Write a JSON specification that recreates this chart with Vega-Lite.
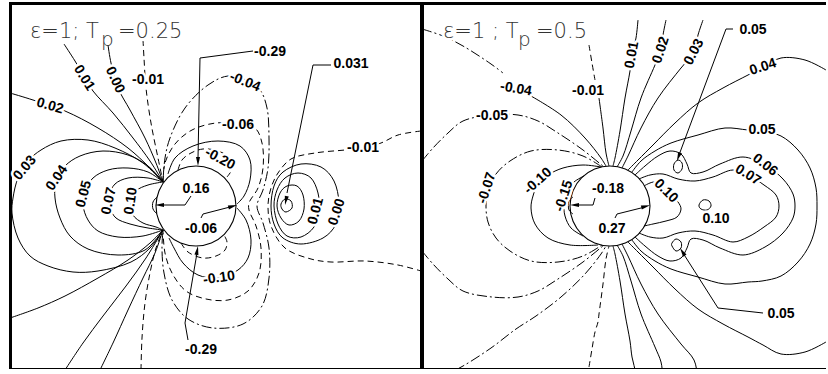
{
  "$schema": "https://vega.github.io/schema/vega-lite/v6.json",
  "padding": {"left": 10, "top": 3, "right": 0, "bottom": 0},
  "spacing": 1,
  "config": {
    "view": {"stroke": null},
    "axis": {"domainColor": "black", "domainWidth": 3, "domainCap": "square", "ticks": false, "labels": false, "grid": false, "title": null}
  },
  "datasets": {
    "circ": [
      {"x": 1, "y": 0}, {"x": 0.924, "y": 0.383}, {"x": 0.707, "y": 0.707}, {"x": 0.383, "y": 0.924},
      {"x": 0, "y": 1}, {"x": -0.383, "y": 0.924}, {"x": -0.707, "y": 0.707}, {"x": -0.924, "y": 0.383},
      {"x": -1, "y": 0}, {"x": -0.924, "y": -0.383}, {"x": -0.707, "y": -0.707}, {"x": -0.383, "y": -0.924},
      {"x": 0, "y": -1}, {"x": 0.383, "y": -0.924}, {"x": 0.707, "y": -0.707}, {"x": 0.924, "y": -0.383}
    ],
    "Ls": [
      {"k":"l1","x":-3.3,"y":4.05},{"k":"l1","x":-3.025,"y":3.625},{"k":"l1","x":-2.775,"y":3.2},{"k":"l1","x":-2.575,"y":2.875},{"k":"l1","x":-2.075,"y":2.325},{"k":"l1","x":-1.575,"y":1.7},{"k":"l1","x":-1.15,"y":1.125},{"k":"l1","x":-0.825,"y":0.6},
      {"k":"l2","x":-2.2,"y":4.025},{"k":"l2","x":-2.125,"y":3.575},{"k":"l2","x":-1.95,"y":2.95},{"k":"l2","x":-1.65,"y":2.4},{"k":"l2","x":-1.275,"y":1.7},{"k":"l2","x":-1.0,"y":1.075},{"k":"l2","x":-0.825,"y":0.6},
      {"k":"l4","x":-4.65,"y":2.825},{"k":"l4","x":-4.075,"y":2.65},{"k":"l4","x":-3.275,"y":2.375},{"k":"l4","x":-2.45,"y":1.95},{"k":"l4","x":-1.7,"y":1.45},{"k":"l4","x":-1.15,"y":0.95},{"k":"l4","x":-0.825,"y":0.6},
      {"k":"l5","x":-4.65,"y":-2.8},{"k":"l5","x":-3.95,"y":-2.55},{"k":"l5","x":-3.275,"y":-2.25},{"k":"l5","x":-2.45,"y":-1.8},{"k":"l5","x":-1.7,"y":-1.35},{"k":"l5","x":-1.15,"y":-0.925},{"k":"l5","x":-0.825,"y":-0.6},
      {"k":"l6","x":-0.825,"y":0.6},{"k":"l6","x":-1.325,"y":1.075},{"k":"l6","x":-2.025,"y":1.45},{"k":"l6","x":-2.7,"y":1.65},{"k":"l6","x":-3.375,"y":1.625},{"k":"l6","x":-3.875,"y":1.4},{"k":"l6","x":-4.2,"y":1.125},{"k":"l6","x":-4.45,"y":0.7},{"k":"l6","x":-4.575,"y":0.2},{"k":"l6","x":-4.6,"y":-0.175},{"k":"l6","x":-4.45,"y":-0.8},{"k":"l6","x":-4.15,"y":-1.25},{"k":"l6","x":-3.7,"y":-1.5},{"k":"l6","x":-3.075,"y":-1.65},{"k":"l6","x":-2.45,"y":-1.625},{"k":"l6","x":-1.625,"y":-1.4},{"k":"l6","x":-1.15,"y":-1.05},{"k":"l6","x":-0.825,"y":-0.6},
      {"k":"l7","x":-0.825,"y":0.6},{"k":"l7","x":-1.2,"y":1.0},{"k":"l7","x":-1.7,"y":1.275},{"k":"l7","x":-2.325,"y":1.375},{"k":"l7","x":-2.9,"y":1.25},{"k":"l7","x":-3.275,"y":1.0},{"k":"l7","x":-3.5,"y":0.625},{"k":"l7","x":-3.525,"y":0.2},{"k":"l7","x":-3.4,"y":-0.3},{"k":"l7","x":-3.15,"y":-0.75},{"k":"l7","x":-2.7,"y":-1.075},{"k":"l7","x":-1.95,"y":-1.225},{"k":"l7","x":-1.275,"y":-1.1},{"k":"l7","x":-0.825,"y":-0.6},
      {"k":"l8","x":-0.825,"y":0.6},{"k":"l8","x":-1.2,"y":0.85},{"k":"l8","x":-1.7,"y":0.95},{"k":"l8","x":-2.2,"y":0.9},{"k":"l8","x":-2.575,"y":0.7},{"k":"l8","x":-2.775,"y":0.375},{"k":"l8","x":-2.825,"y":0.025},{"k":"l8","x":-2.7,"y":-0.35},{"k":"l8","x":-2.45,"y":-0.625},{"k":"l8","x":-1.95,"y":-0.775},{"k":"l8","x":-1.325,"y":-0.75},{"k":"l8","x":-0.825,"y":-0.6},
      {"k":"l9","x":-0.825,"y":0.6},{"k":"l9","x":-1.2,"y":0.7},{"k":"l9","x":-1.7,"y":0.7},{"k":"l9","x":-2.025,"y":0.55},{"k":"l9","x":-2.175,"y":0.25},{"k":"l9","x":-2.15,"y":-0.05},{"k":"l9","x":-2.0,"y":-0.3},{"k":"l9","x":-1.65,"y":-0.45},{"k":"l9","x":-1.2,"y":-0.55},{"k":"l9","x":-0.825,"y":-0.6},
      {"k":"l10","x":-0.825,"y":0.6},{"k":"l10","x":-1.2,"y":0.525},{"k":"l10","x":-1.5,"y":0.375},{"k":"l10","x":-1.625,"y":0.075},{"k":"l10","x":-1.575,"y":-0.225},{"k":"l10","x":-1.325,"y":-0.425},{"k":"l10","x":-1.0,"y":-0.525},{"k":"l10","x":-0.825,"y":-0.6},
      {"k":"l11","x":-3.275,"y":-4.1},{"k":"l11","x":-2.825,"y":-3.425},{"k":"l11","x":-2.325,"y":-2.75},{"k":"l11","x":-1.75,"y":-2.0},{"k":"l11","x":-1.25,"y":-1.3},{"k":"l11","x":-0.825,"y":-0.6},
      {"k":"l12","x":-2.4,"y":-4.1},{"k":"l12","x":-2.075,"y":-3.425},{"k":"l12","x":-1.7,"y":-2.6},{"k":"l12","x":-1.325,"y":-1.8},{"k":"l12","x":-1.025,"y":-1.175},{"k":"l12","x":-0.825,"y":-0.6},
      {"k":"n3a","x":-0.7,"y":0.8},{"k":"n3a","x":-0.525,"y":1.2},{"k":"n3a","x":-0.075,"y":1.5},{"k":"n3a","x":0.55,"y":1.625},{"k":"n3a","x":1.1,"y":1.5},{"k":"n3a","x":1.35,"y":1.15},{"k":"n3a","x":1.35,"y":0.65},{"k":"n3a","x":1.2,"y":0.25},{"k":"n3a","x":1.025,"y":0.05},
      {"k":"n3b","x":1.025,"y":-0.05},{"k":"n3b","x":1.25,"y":-0.35},{"k":"n3b","x":1.375,"y":-0.85},{"k":"n3b","x":1.3,"y":-1.3},{"k":"n3b","x":1.05,"y":-1.6},{"k":"n3b","x":0.55,"y":-1.8},{"k":"n3b","x":0.05,"y":-1.725},{"k":"n3b","x":-0.325,"y":-1.425},{"k":"n3b","x":-0.55,"y":-1.05},{"k":"n3b","x":-0.675,"y":-0.8},
      {"k":"m16","x":-0.975,"y":0.225},{"k":"m16","x":-1.075,"y":0.1},{"k":"m16","x":-1.075,"y":-0.075},{"k":"m16","x":-0.975,"y":-0.2}
    ],
    "Ld": [
      {"k":"l3","x":-1.325,"y":4.15},{"k":"l3","x":-1.3,"y":3.7},{"k":"l3","x":-1.25,"y":2.95},{"k":"l3","x":-1.125,"y":2.075},{"k":"l3","x":-0.95,"y":1.2},{"k":"l3","x":-0.825,"y":0.6},
      {"k":"l13","x":-1.375,"y":-4.1},{"k":"l13","x":-1.35,"y":-3.3},{"k":"l13","x":-1.275,"y":-2.425},{"k":"l13","x":-1.15,"y":-1.675},{"k":"l13","x":-1.0,"y":-1.05},{"k":"l13","x":-0.825,"y":-0.6},
      {"k":"n2","x":-0.825,"y":0.6},{"k":"n2","x":-0.775,"y":1.075},{"k":"n2","x":-0.525,"y":1.55},{"k":"n2","x":-0.1,"y":1.9},{"k":"n2","x":0.5,"y":2.075},{"k":"n2","x":1.05,"y":2.05},{"k":"n2","x":1.475,"y":1.95},{"k":"n2","x":1.65,"y":1.575},{"k":"n2","x":1.675,"y":0.95},{"k":"n2","x":1.55,"y":0.45},{"k":"n2","x":1.325,"y":0.075},{"k":"n2","x":1.325,"y":-0.1},{"k":"n2","x":1.5,"y":-0.5},{"k":"n2","x":1.625,"y":-1.05},{"k":"n2","x":1.575,"y":-1.675},{"k":"n2","x":1.3,"y":-2.125},{"k":"n2","x":0.8,"y":-2.35},{"k":"n2","x":0.25,"y":-2.325},{"k":"n2","x":-0.25,"y":-2.125},{"k":"n2","x":-0.6,"y":-1.675},{"k":"n2","x":-0.775,"y":-1.175},{"k":"n2","x":-0.825,"y":-0.6},
      {"k":"n4a","x":-0.45,"y":0.9},{"k":"n4a","x":-0.35,"y":1.15},{"k":"n4a","x":-0.125,"y":1.325},{"k":"n4a","x":0.175,"y":1.425},{"k":"n4a","x":0.55,"y":1.375},{"k":"n4a","x":0.85,"y":1.2},{"k":"n4a","x":0.925,"y":0.975},{"k":"n4a","x":0.775,"y":0.725},
      {"k":"n4b","x":-0.375,"y":-0.925},{"k":"n4b","x":-0.2,"y":-1.15},{"k":"n4b","x":0.175,"y":-1.3},{"k":"n4b","x":0.5,"y":-1.25},{"k":"n4b","x":0.725,"y":-1.1},{"k":"n4b","x":0.775,"y":-0.9},{"k":"n4b","x":0.7,"y":-0.725},
      {"k":"n5","x":5.625,"y":1.875},{"k":"n5","x":5.05,"y":1.775},{"k":"n5","x":4.625,"y":1.575},{"k":"n5","x":4.175,"y":1.45},{"k":"n5","x":3.725,"y":1.4},{"k":"n5","x":2.975,"y":1.325},{"k":"n5","x":2.375,"y":1.175},{"k":"n5","x":2.05,"y":0.825},{"k":"n5","x":1.875,"y":0.45},{"k":"n5","x":1.8,"y":0},{"k":"n5","x":1.875,"y":-0.5},{"k":"n5","x":2.225,"y":-1.05},{"k":"n5","x":2.875,"y":-1.325},{"k":"n5","x":3.375,"y":-1.4},{"k":"n5","x":4.225,"y":-1.375},{"k":"n5","x":5.05,"y":-1.475},{"k":"n5","x":5.625,"y":-1.625}
    ],
    "Ldd": [
      {"k":"n1","x":-0.825,"y":0.6},{"k":"n1","x":-0.775,"y":1.2},{"k":"n1","x":-0.65,"y":1.7},{"k":"n1","x":-0.275,"y":2.45},{"k":"n1","x":0.3,"y":3.025},{"k":"n1","x":0.8,"y":3.25},{"k":"n1","x":1.25,"y":3.15},{"k":"n1","x":1.6,"y":2.9},{"k":"n1","x":1.775,"y":2.45},{"k":"n1","x":1.825,"y":1.7},{"k":"n1","x":1.8,"y":0.95},{"k":"n1","x":1.675,"y":0.4},{"k":"n1","x":1.525,"y":0},{"k":"n1","x":1.675,"y":-0.425},{"k":"n1","x":1.825,"y":-1.05},{"k":"n1","x":1.825,"y":-1.8},{"k":"n1","x":1.65,"y":-2.5},{"k":"n1","x":1.175,"y":-2.95},{"k":"n1","x":0.425,"y":-3.05},{"k":"n1","x":-0.2,"y":-2.825},{"k":"n1","x":-0.6,"y":-2.35},{"k":"n1","x":-0.8,"y":-1.675},{"k":"n1","x":-0.85,"y":-1.05},{"k":"n1","x":-0.825,"y":-0.6}
    ],
    "Lr": [
      {"k":"r3","x":1.875,"y":0},{"k":"r3","x":1.95,"y":0.5},{"k":"r3","x":2.175,"y":0.85},{"k":"r3","x":2.625,"y":1.05},{"k":"r3","x":3.125,"y":0.975},{"k":"r3","x":3.45,"y":0.625},{"k":"r3","x":3.575,"y":0.075},{"k":"r3","x":3.5,"y":-0.45},{"k":"r3","x":3.175,"y":-0.8},{"k":"r3","x":2.625,"y":-0.95},{"k":"r3","x":2.175,"y":-0.8},{"k":"r3","x":1.95,"y":-0.45},
      {"k":"r2","x":1.95,"y":0},{"k":"r2","x":2.025,"y":0.4},{"k":"r2","x":2.225,"y":0.7},{"k":"r2","x":2.55,"y":0.825},{"k":"r2","x":2.875,"y":0.7},{"k":"r2","x":3.05,"y":0.325},{"k":"r2","x":3.075,"y":-0.1},{"k":"r2","x":2.95,"y":-0.525},{"k":"r2","x":2.625,"y":-0.775},{"k":"r2","x":2.275,"y":-0.75},{"k":"r2","x":2.05,"y":-0.45},
      {"k":"r1","x":2.025,"y":0},{"k":"r1","x":2.1,"y":0.325},{"k":"r1","x":2.275,"y":0.5},{"k":"r1","x":2.525,"y":0.5},{"k":"r1","x":2.675,"y":0.275},{"k":"r1","x":2.7,"y":-0.075},{"k":"r1","x":2.575,"y":-0.375},{"k":"r1","x":2.325,"y":-0.475},{"k":"r1","x":2.125,"y":-0.3},
      {"k":"r0","x":2.125,"y":0.05},{"k":"r0","x":2.225,"y":0.175},{"k":"r0","x":2.375,"y":0.125},{"k":"r0","x":2.4,"y":-0.05},{"k":"r0","x":2.25,"y":-0.15},{"k":"r0","x":2.15,"y":-0.075}
    ],
    "La": [
      {"k":"a1","x":1.425,"y":3.875},{"k":"a1","x":0.1,"y":3.7},{"k":"a1","x":0.05,"y":1.2},
      {"k":"a2","x":-0.2,"y":-3.35},{"k":"a2","x":-0.275,"y":-2.925},{"k":"a2","x":0.025,"y":-1.175},
      {"k":"a3","x":-0.125,"y":0.25},{"k":"a3","x":-0.275,"y":0.025},{"k":"a3","x":-0.875,"y":0.025},
      {"k":"a4","x":0.125,"y":-0.3},{"k":"a4","x":0.175,"y":-0.2},{"k":"a4","x":0.85,"y":-0.025},
      {"k":"a5","x":3.375,"y":3.525},{"k":"a5","x":2.925,"y":3.525},{"k":"a5","x":2.275,"y":0.325}
    ],
    "Lh": [
      {"x":0.05,"y":1.1125,"h":180},{"x":0.03,"y":-1.11,"h":10},{"x":-0.9125,"y":0.025,"h":270},{"x":0.9175,"y":-0.005,"h":74},{"x":2.2475,"y":0.135,"h":191.5}
    ],
    "Ll": [
      {"x":-2.8,"y":3.2,"t":"0.01","a":58},
      {"x":-2.025,"y":3.15,"t":"0.00","a":65},
      {"x":-1.2,"y":3.15,"t":"-0.01","a":0},
      {"x":-3.65,"y":2.5,"t":"0.02","a":16},
      {"x":-4.275,"y":0.95,"t":"0.03","a":-50},
      {"x":-3.475,"y":0.7,"t":"0.04","a":-55},
      {"x":-2.8,"y":0.3,"t":"0.05","a":-75},
      {"x":-2.175,"y":0.125,"t":"0.07","a":-78},
      {"x":-1.625,"y":0.125,"t":"0.10","a":-82},
      {"x":1.225,"y":3.1,"t":"-0.04","a":22},
      {"x":1.05,"y":2.025,"t":"-0.06","a":0},
      {"x":0.6,"y":1.175,"t":"-0.20","a":28},
      {"x":1.85,"y":3.85,"t":"-0.29","a":0},
      {"x":3.875,"y":3.55,"t":"0.031","a":0},
      {"x":4.175,"y":1.45,"t":"-0.01","a":0},
      {"x":0,"y":0.425,"t":"0.16","a":0},
      {"x":0.125,"y":-0.575,"t":"-0.06","a":0},
      {"x":3.0,"y":-0.125,"t":"0.01","a":-75},
      {"x":3.525,"y":-0.15,"t":"0.00","a":-72},
      {"x":0.575,"y":-1.8,"t":"-0.10","a":-8},
      {"x":0.125,"y":-3.6,"t":"-0.29","a":0}
    ],
    "Lt": [{"x":-4.15,"y":4.2,"t":"ε=1; T"},{"x":-1.95,"y":4.2,"t":"=0.25"}],
    "Lsub": [{"x":-2.375,"y":4.0,"t":"p"}],
    "Rs": [
      {"k":"t2b","x":-1.975,"y":2.75},{"k":"t2b","x":-1.225,"y":2.275},{"k":"t2b","x":-0.625,"y":1.7},{"k":"t2b","x":-0.225,"y":1.2},{"k":"t2b","x":-0.1,"y":1.0},
      {"k":"t3b","x":-0.275,"y":2.7},{"k":"t3b","x":-0.175,"y":1.95},{"k":"t3b","x":-0.1,"y":1.325},{"k":"t3b","x":-0.025,"y":1.0},
      {"k":"t4","x":0.7,"y":4.65},{"k":"t4","x":0.65,"y":4.2},{"k":"t4","x":0.55,"y":3.775},{"k":"t4","x":0.5,"y":3.375},{"k":"t4","x":0.375,"y":2.7},{"k":"t4","x":0.25,"y":1.875},{"k":"t4","x":0.125,"y":1.2},{"k":"t4","x":0.075,"y":1.0},
      {"k":"t5","x":1.4,"y":4.65},{"k":"t5","x":1.325,"y":4.275},{"k":"t5","x":1.275,"y":3.9},{"k":"t5","x":1.125,"y":3.525},{"k":"t5","x":0.775,"y":2.7},{"k":"t5","x":0.525,"y":1.875},{"k":"t5","x":0.325,"y":1.25},{"k":"t5","x":0.175,"y":0.975},
      {"k":"t6","x":2.325,"y":4.65},{"k":"t6","x":2.2,"y":4.275},{"k":"t6","x":2.1,"y":3.85},{"k":"t6","x":1.775,"y":3.45},{"k":"t6","x":1.2,"y":2.7},{"k":"t6","x":0.775,"y":1.95},{"k":"t6","x":0.45,"y":1.25},{"k":"t6","x":0.3,"y":0.95},
      {"k":"t7","x":5.4,"y":3.4},{"k":"t7","x":4.875,"y":3.65},{"k":"t7","x":4.275,"y":3.7},{"k":"t7","x":3.825,"y":3.475},{"k":"t7","x":3.45,"y":3.275},{"k":"t7","x":2.825,"y":2.95},{"k":"t7","x":2.2,"y":2.575},{"k":"t7","x":1.625,"y":2.075},{"k":"t7","x":1.075,"y":1.525},{"k":"t7","x":0.7,"y":1.15},{"k":"t7","x":0.45,"y":0.9},
      {"k":"b4","x":0.7,"y":-4.65},{"k":"b4","x":0.65,"y":-4.2},{"k":"b4","x":0.55,"y":-3.775},{"k":"b4","x":0.5,"y":-3.375},{"k":"b4","x":0.375,"y":-2.7},{"k":"b4","x":0.25,"y":-1.875},{"k":"b4","x":0.125,"y":-1.2},{"k":"b4","x":0.075,"y":-1.0},
      {"k":"b5","x":1.4,"y":-4.65},{"k":"b5","x":1.325,"y":-4.275},{"k":"b5","x":1.275,"y":-3.9},{"k":"b5","x":1.125,"y":-3.525},{"k":"b5","x":0.775,"y":-2.7},{"k":"b5","x":0.525,"y":-1.875},{"k":"b5","x":0.325,"y":-1.25},{"k":"b5","x":0.175,"y":-0.975},
      {"k":"b6","x":2.325,"y":-4.65},{"k":"b6","x":2.2,"y":-4.275},{"k":"b6","x":2.1,"y":-3.85},{"k":"b6","x":1.775,"y":-3.45},{"k":"b6","x":1.2,"y":-2.7},{"k":"b6","x":0.775,"y":-1.95},{"k":"b6","x":0.45,"y":-1.25},{"k":"b6","x":0.3,"y":-0.95},
      {"k":"b7","x":5.4,"y":-3.4},{"k":"b7","x":4.875,"y":-3.65},{"k":"b7","x":4.275,"y":-3.7},{"k":"b7","x":3.825,"y":-3.475},{"k":"b7","x":3.45,"y":-3.275},{"k":"b7","x":2.825,"y":-2.95},{"k":"b7","x":2.2,"y":-2.575},{"k":"b7","x":1.625,"y":-2.075},{"k":"b7","x":1.075,"y":-1.525},{"k":"b7","x":0.7,"y":-1.15},{"k":"b7","x":0.45,"y":-0.9},
      {"k":"q1","x":0.55,"y":0.85},{"k":"q1","x":0.775,"y":1.125},{"k":"q1","x":1.125,"y":1.375},{"k":"q1","x":1.525,"y":1.575},{"k":"q1","x":2.2,"y":1.775},{"k":"q1","x":2.875,"y":1.95},{"k":"q1","x":3.45,"y":1.9},{"k":"q1","x":3.8,"y":1.875},{"k":"q1","x":4.275,"y":1.75},{"k":"q1","x":4.7,"y":1.4},{"k":"q1","x":5.0,"y":0.95},{"k":"q1","x":5.15,"y":0.45},{"k":"q1","x":5.175,"y":0},{"k":"q1","x":5.15,"y":-0.45},{"k":"q1","x":5.0,"y":-0.95},{"k":"q1","x":4.7,"y":-1.4},{"k":"q1","x":4.275,"y":-1.75},{"k":"q1","x":3.8,"y":-1.875},{"k":"q1","x":3.45,"y":-1.9},{"k":"q1","x":2.875,"y":-1.95},{"k":"q1","x":2.2,"y":-1.775},{"k":"q1","x":1.525,"y":-1.575},{"k":"q1","x":1.125,"y":-1.375},{"k":"q1","x":0.775,"y":-1.125},{"k":"q1","x":0.55,"y":-0.85},
      {"k":"q2","x":0.625,"y":0.775},{"k":"q2","x":0.875,"y":1.0},{"k":"q2","x":1.2,"y":1.25},{"k":"q2","x":1.5,"y":1.375},{"k":"q2","x":1.775,"y":1.3},{"k":"q2","x":1.925,"y":1.05},{"k":"q2","x":2.025,"y":0.825},{"k":"q2","x":2.325,"y":0.85},{"k":"q2","x":2.75,"y":1.05},{"k":"q2","x":3.325,"y":1.225},{"k":"q2","x":3.875,"y":1.025},{"k":"q2","x":4.325,"y":0.675},{"k":"q2","x":4.575,"y":0.3},{"k":"q2","x":4.625,"y":0},{"k":"q2","x":4.575,"y":-0.3},{"k":"q2","x":4.325,"y":-0.675},{"k":"q2","x":3.875,"y":-1.025},{"k":"q2","x":3.325,"y":-1.225},{"k":"q2","x":2.75,"y":-1.05},{"k":"q2","x":2.325,"y":-0.85},{"k":"q2","x":2.025,"y":-0.825},{"k":"q2","x":1.925,"y":-1.05},{"k":"q2","x":1.775,"y":-1.3},{"k":"q2","x":1.5,"y":-1.375},{"k":"q2","x":1.2,"y":-1.25},{"k":"q2","x":0.875,"y":-1.0},{"k":"q2","x":0.625,"y":-0.775},
      {"k":"q3","x":0.725,"y":0.675},{"k":"q3","x":1.0,"y":0.775},{"k":"q3","x":1.325,"y":0.8},{"k":"q3","x":1.7,"y":0.675},{"k":"q3","x":2.125,"y":0.625},{"k":"q3","x":2.575,"y":0.725},{"k":"q3","x":3.075,"y":0.9},{"k":"q3","x":3.45,"y":0.775},{"k":"q3","x":3.85,"y":0.525},{"k":"q3","x":4.15,"y":0.275},{"k":"q3","x":4.225,"y":0},{"k":"q3","x":4.15,"y":-0.275},{"k":"q3","x":3.85,"y":-0.525},{"k":"q3","x":3.45,"y":-0.775},{"k":"q3","x":3.075,"y":-0.9},{"k":"q3","x":2.575,"y":-0.725},{"k":"q3","x":2.125,"y":-0.625},{"k":"q3","x":1.7,"y":-0.675},{"k":"q3","x":1.325,"y":-0.8},{"k":"q3","x":1.0,"y":-0.775},{"k":"q3","x":0.725,"y":-0.675},
      {"k":"q5","x":-0.225,"y":0.975},{"k":"q5","x":-0.675,"y":1.025},{"k":"q5","x":-1.175,"y":0.95},{"k":"q5","x":-1.55,"y":0.775},{"k":"q5","x":-1.8,"y":0.55},{"k":"q5","x":-1.925,"y":0.25},{"k":"q5","x":-1.975,"y":-0.05},{"k":"q5","x":-1.875,"y":-0.45},{"k":"q5","x":-1.55,"y":-0.8},{"k":"q5","x":-1.0,"y":-0.975},{"k":"q5","x":-0.3,"y":-0.975},
      {"k":"q6","x":-0.65,"y":0.75},{"k":"q6","x":-0.9,"y":0.6},{"k":"q6","x":-1.075,"y":0.375},{"k":"q6","x":-1.15,"y":0.075},{"k":"q6","x":-1.125,"y":-0.25},{"k":"q6","x":-0.975,"y":-0.55},{"k":"q6","x":-0.675,"y":-0.75},
      {"k":"q7","x":0.85,"y":0.5},{"k":"q7","x":1.125,"y":0.6},{"k":"q7","x":1.4,"y":0.375},{"k":"q7","x":1.7,"y":0.1},{"k":"q7","x":1.775,"y":-0.075},{"k":"q7","x":1.675,"y":-0.275},{"k":"q7","x":1.4,"y":-0.375},{"k":"q7","x":1.075,"y":-0.45},{"k":"q7","x":0.85,"y":-0.5},
      {"k":"m18","x":-0.925,"y":0.225},{"k":"m18","x":-1.025,"y":0.125},{"k":"m18","x":-1.025,"y":-0.1},{"k":"m18","x":-0.925,"y":-0.2}
    ],
    "Rd": [
      {"k":"t3a","x":-0.525,"y":4.025},{"k":"t3a","x":-0.45,"y":3.575},{"k":"t3a","x":-0.375,"y":3.15},
      {"k":"b3","x":-0.525,"y":-4.025},{"k":"b3","x":-0.45,"y":-3.575},{"k":"b3","x":-0.375,"y":-3.15},{"k":"b3","x":-0.3,"y":-2.9},{"k":"b3","x":-0.275,"y":-2.7},{"k":"b3","x":-0.175,"y":-1.95},{"k":"b3","x":-0.1,"y":-1.325},{"k":"b3","x":-0.025,"y":-1.0}
    ],
    "Rdd": [
      {"k":"t1","x":-4.7,"y":1.125},{"k":"t1","x":-4.425,"y":1.45},{"k":"t1","x":-4.05,"y":1.825},{"k":"t1","x":-3.675,"y":2.125},{"k":"t1","x":-2.95,"y":2.275},{"k":"t1","x":-2.3,"y":2.275},{"k":"t1","x":-1.8,"y":2.125},{"k":"t1","x":-1.3,"y":1.825},{"k":"t1","x":-0.675,"y":1.4},{"k":"t1","x":-0.15,"y":0.975},
      {"k":"t2a","x":-4.7,"y":4.425},{"k":"t2a","x":-4.175,"y":4.25},{"k":"t2a","x":-3.675,"y":4.0},{"k":"t2a","x":-2.975,"y":3.55},{"k":"t2a","x":-2.675,"y":3.325},
      {"k":"b1","x":-4.7,"y":-1.125},{"k":"b1","x":-4.425,"y":-1.45},{"k":"b1","x":-4.05,"y":-1.825},{"k":"b1","x":-3.675,"y":-2.125},{"k":"b1","x":-2.95,"y":-2.275},{"k":"b1","x":-2.3,"y":-2.275},{"k":"b1","x":-1.8,"y":-2.125},{"k":"b1","x":-1.3,"y":-1.825},{"k":"b1","x":-0.675,"y":-1.4},{"k":"b1","x":-0.15,"y":-0.975},
      {"k":"b2","x":-4.7,"y":-4.425},{"k":"b2","x":-4.175,"y":-4.25},{"k":"b2","x":-3.675,"y":-4.0},{"k":"b2","x":-2.975,"y":-3.55},{"k":"b2","x":-2.35,"y":-3.075},{"k":"b2","x":-1.85,"y":-2.75},{"k":"b2","x":-1.225,"y":-2.275},{"k":"b2","x":-0.625,"y":-1.7},{"k":"b2","x":-0.225,"y":-1.2},{"k":"b2","x":-0.1,"y":-1.0},
      {"k":"q4","x":-0.2,"y":0.975},{"k":"q4","x":-0.675,"y":1.25},{"k":"q4","x":-1.3,"y":1.4},{"k":"q4","x":-1.975,"y":1.375},{"k":"q4","x":-2.5,"y":1.125},{"k":"q4","x":-2.85,"y":0.8},{"k":"q4","x":-3.05,"y":0.4},{"k":"q4","x":-3.1,"y":0},{"k":"q4","x":-3.05,"y":-0.4},{"k":"q4","x":-2.85,"y":-0.8},{"k":"q4","x":-2.5,"y":-1.125},{"k":"q4","x":-1.975,"y":-1.375},{"k":"q4","x":-1.3,"y":-1.4},{"k":"q4","x":-0.675,"y":-1.25},{"k":"q4","x":-0.2,"y":-0.975}
    ],
    "Rr": [
      {"k":"i1","x":1.6,"y":1.05},{"k":"i1","x":1.7,"y":1.15},{"k":"i1","x":1.8,"y":1.075},{"k":"i1","x":1.8,"y":0.925},{"k":"i1","x":1.7,"y":0.825},{"k":"i1","x":1.6,"y":0.9},
      {"k":"i2","x":1.55,"y":-0.925},{"k":"i2","x":1.65,"y":-0.825},{"k":"i2","x":1.775,"y":-0.9},{"k":"i2","x":1.775,"y":-1.05},{"k":"i2","x":1.65,"y":-1.125},{"k":"i2","x":1.55,"y":-1.0},
      {"k":"i3","x":2.225,"y":0.025},{"k":"i3","x":2.325,"y":0.15},{"k":"i3","x":2.475,"y":0.125},{"k":"i3","x":2.525,"y":0},{"k":"i3","x":2.425,"y":-0.1},{"k":"i3","x":2.275,"y":-0.075}
    ],
    "Ra": [
      {"k":"a6","x":-0.375,"y":0.2},{"k":"a6","x":-0.425,"y":0.025},{"k":"a6","x":-0.85,"y":0.025},
      {"k":"a7","x":0.125,"y":-0.3},{"k":"a7","x":0.175,"y":-0.2},{"k":"a7","x":0.875,"y":-0.025},
      {"k":"a8","x":3.075,"y":4.425},{"k":"a8","x":2.9,"y":4.425},{"k":"a8","x":1.725,"y":1.275},
      {"k":"a9","x":3.825,"y":-2.675},{"k":"a9","x":2.7,"y":-2.55},{"k":"a9","x":1.825,"y":-1.175}
    ],
    "Rh": [
      {"x":-0.8875,"y":0.025,"h":270},{"x":0.8925,"y":-0.0075,"h":75},{"x":1.7125,"y":1.23,"h":200},{"x":1.81,"y":-1.145,"h":328}
    ],
    "Rl": [
      {"x":-2.95,"y":2.25,"t":"-0.05","a":0},
      {"x":-2.35,"y":2.925,"t":"-0.04","a":10},
      {"x":-0.55,"y":2.875,"t":"-0.01","a":0},
      {"x":0.55,"y":3.775,"t":"0.01","a":-80},
      {"x":1.275,"y":3.9,"t":"0.02","a":-72},
      {"x":2.1,"y":3.85,"t":"0.03","a":-62},
      {"x":3.575,"y":4.4,"t":"0.05","a":0},
      {"x":3.825,"y":3.475,"t":"0.04","a":-18},
      {"x":3.8,"y":1.9,"t":"0.05","a":0},
      {"x":3.875,"y":1.025,"t":"0.06","a":38},
      {"x":3.45,"y":0.775,"t":"0.07","a":32},
      {"x":1.4,"y":0.375,"t":"0.10","a":45},
      {"x":2.65,"y":-0.325,"t":"0.10","a":0},
      {"x":-0.05,"y":0.425,"t":"-0.18","a":0},
      {"x":0.05,"y":-0.575,"t":"0.27","a":0},
      {"x":-1.15,"y":0.25,"t":"-0.15","a":-72},
      {"x":-1.8,"y":0.625,"t":"-0.10","a":-42},
      {"x":-3.075,"y":0.45,"t":"-0.07","a":-72},
      {"x":4.275,"y":-2.7,"t":"0.05","a":0}
    ],
    "Rt": [{"x":-4.175,"y":4.2,"t":"ε=1 ; T"},{"x":-1.85,"y":4.2,"t":"=0.5"}],
    "Rsub": [{"x":-2.3,"y":4.0,"t":"p"}]
  },
  "hconcat": [
    {
      "width": 411,
      "height": 366,
      "encoding": {
        "x": {"field": "x", "type": "quantitative", "scale": {"domain": [-4.65, 5.625], "nice": false, "zero": false}, "axis": null},
        "y": {"field": "y", "type": "quantitative", "scale": {"domain": [-4.075, 5.075], "nice": false, "zero": false}, "axis": null}
      },
      "layer": [
        {
          "data": {"name": "circ"},
          "mark": {"type": "line", "interpolate": "cardinal-closed", "color": "black", "strokeWidth": 1.1},
          "encoding": {
            "x": {"field": "x", "type": "quantitative", "scale": {"domain": [-4.65, 5.625], "nice": false, "zero": false}, "axis": {"orient": "bottom"}},
            "y": {"field": "y", "type": "quantitative", "scale": {"domain": [-4.075, 5.075], "nice": false, "zero": false}, "axis": {"orient": "left"}},
            "order": {"value": null}
          }
        },
        {
          "data": {"name": "Ls"},
          "mark": {"type": "line", "interpolate": "catmull-rom", "color": "black", "strokeWidth": 1, "clip": true},
          "encoding": {
            "x": {"field": "x", "type": "quantitative", "scale": {"domain": [-4.65, 5.625], "nice": false, "zero": false}, "axis": {"orient": "top"}},
            "y": {"field": "y", "type": "quantitative", "scale": {"domain": [-4.075, 5.075], "nice": false, "zero": false}, "axis": {"orient": "right"}},
            "detail": {"field": "k"},
            "order": {"value": null}
          }
        },
        {
          "data": {"name": "Ld"},
          "mark": {"type": "line", "interpolate": "catmull-rom", "color": "black", "strokeWidth": 1, "strokeDash": [6, 4], "clip": true},
          "encoding": {"detail": {"field": "k"}, "order": {"value": null}}
        },
        {
          "data": {"name": "Ldd"},
          "mark": {"type": "line", "interpolate": "catmull-rom", "color": "black", "strokeWidth": 1, "strokeDash": [10, 3, 2, 3], "clip": true},
          "encoding": {"detail": {"field": "k"}, "order": {"value": null}}
        },
        {
          "data": {"name": "Lr"},
          "mark": {"type": "line", "interpolate": "cardinal-closed", "color": "black", "strokeWidth": 1, "clip": true},
          "encoding": {"detail": {"field": "k"}, "order": {"value": null}}
        },
        {
          "data": {"name": "Lt"},
          "mark": {"type": "text", "font": "DejaVu Sans", "fontWeight": 200, "fontSize": 21, "align": "left", "baseline": "alphabetic", "fill": "white", "stroke": "white", "strokeWidth": 6},
          "encoding": {"text": {"field": "t"}}
        },
        {
          "data": {"name": "Lt"},
          "mark": {"type": "text", "font": "DejaVu Sans", "fontWeight": 200, "fontSize": 21, "align": "left", "baseline": "alphabetic", "fill": "#333333"},
          "encoding": {"text": {"field": "t"}}
        },
        {
          "data": {"name": "Lsub"},
          "mark": {"type": "text", "font": "DejaVu Sans", "fontWeight": 200, "fontSize": 20, "align": "left", "baseline": "alphabetic", "fill": "#333333"},
          "encoding": {"text": {"field": "t"}}
        },
        {
          "data": {"name": "Ll"},
          "mark": {"type": "text", "font": "Liberation Sans", "fontWeight": "bold", "fontSize": 14, "align": "center", "baseline": "middle", "fill": "white", "stroke": "white", "strokeWidth": 5, "strokeJoin": "round"},
          "encoding": {"text": {"field": "t"}, "angle": {"field": "a", "type": "quantitative", "scale": null}}
        },
        {
          "data": {"name": "Ll"},
          "mark": {"type": "text", "font": "Liberation Sans", "fontWeight": "bold", "fontSize": 14, "align": "center", "baseline": "middle", "fill": "black"},
          "encoding": {"text": {"field": "t"}, "angle": {"field": "a", "type": "quantitative", "scale": null}}
        },
        {
          "data": {"name": "La"},
          "mark": {"type": "line", "interpolate": "linear", "color": "black", "strokeWidth": 1},
          "encoding": {"detail": {"field": "k"}, "order": {"value": null}}
        },
        {
          "data": {"name": "Lh"},
          "mark": {"type": "point", "shape": "M0,-1L0.45,1L-0.45,1Z", "filled": true, "color": "black", "opacity": 1, "size": 81, "strokeWidth": 0},
          "encoding": {"angle": {"field": "h", "type": "quantitative", "scale": null}}
        }
      ],
      "resolve": {"axis": {"x": "independent", "y": "independent"}}
    },
    {
      "width": 404,
      "height": 366,
      "encoding": {
        "x": {"field": "x", "type": "quantitative", "scale": {"domain": [-4.7, 5.4], "nice": false, "zero": false}, "axis": null},
        "y": {"field": "y", "type": "quantitative", "scale": {"domain": [-4.075, 5.075], "nice": false, "zero": false}, "axis": null}
      },
      "layer": [
        {
          "data": {"name": "circ"},
          "mark": {"type": "line", "interpolate": "cardinal-closed", "color": "black", "strokeWidth": 1.1},
          "encoding": {
            "x": {"field": "x", "type": "quantitative", "scale": {"domain": [-4.7, 5.4], "nice": false, "zero": false}, "axis": {"orient": "bottom"}},
            "y": {"field": "y", "type": "quantitative", "scale": {"domain": [-4.075, 5.075], "nice": false, "zero": false}, "axis": {"orient": "left"}},
            "order": {"value": null}
          }
        },
        {
          "data": {"name": "Rs"},
          "mark": {"type": "line", "interpolate": "catmull-rom", "color": "black", "strokeWidth": 1, "clip": true},
          "encoding": {
            "x": {"field": "x", "type": "quantitative", "scale": {"domain": [-4.7, 5.4], "nice": false, "zero": false}, "axis": {"orient": "top"}},
            "detail": {"field": "k"},
            "order": {"value": null}
          }
        },
        {
          "data": {"name": "Rd"},
          "mark": {"type": "line", "interpolate": "catmull-rom", "color": "black", "strokeWidth": 1, "strokeDash": [6, 4], "clip": true},
          "encoding": {"detail": {"field": "k"}, "order": {"value": null}}
        },
        {
          "data": {"name": "Rdd"},
          "mark": {"type": "line", "interpolate": "catmull-rom", "color": "black", "strokeWidth": 1, "strokeDash": [10, 3, 2, 3], "clip": true},
          "encoding": {"detail": {"field": "k"}, "order": {"value": null}}
        },
        {
          "data": {"name": "Rr"},
          "mark": {"type": "line", "interpolate": "cardinal-closed", "color": "black", "strokeWidth": 1, "clip": true},
          "encoding": {"detail": {"field": "k"}, "order": {"value": null}}
        },
        {
          "data": {"name": "Rt"},
          "mark": {"type": "text", "font": "DejaVu Sans", "fontWeight": 200, "fontSize": 21, "align": "left", "baseline": "alphabetic", "fill": "white", "stroke": "white", "strokeWidth": 6},
          "encoding": {"text": {"field": "t"}}
        },
        {
          "data": {"name": "Rt"},
          "mark": {"type": "text", "font": "DejaVu Sans", "fontWeight": 200, "fontSize": 21, "align": "left", "baseline": "alphabetic", "fill": "#333333"},
          "encoding": {"text": {"field": "t"}}
        },
        {
          "data": {"name": "Rsub"},
          "mark": {"type": "text", "font": "DejaVu Sans", "fontWeight": 200, "fontSize": 20, "align": "left", "baseline": "alphabetic", "fill": "#333333"},
          "encoding": {"text": {"field": "t"}}
        },
        {
          "data": {"name": "Rl"},
          "mark": {"type": "text", "font": "Liberation Sans", "fontWeight": "bold", "fontSize": 14, "align": "center", "baseline": "middle", "fill": "white", "stroke": "white", "strokeWidth": 5, "strokeJoin": "round"},
          "encoding": {"text": {"field": "t"}, "angle": {"field": "a", "type": "quantitative", "scale": null}}
        },
        {
          "data": {"name": "Rl"},
          "mark": {"type": "text", "font": "Liberation Sans", "fontWeight": "bold", "fontSize": 14, "align": "center", "baseline": "middle", "fill": "black"},
          "encoding": {"text": {"field": "t"}, "angle": {"field": "a", "type": "quantitative", "scale": null}}
        },
        {
          "data": {"name": "Ra"},
          "mark": {"type": "line", "interpolate": "linear", "color": "black", "strokeWidth": 1},
          "encoding": {"detail": {"field": "k"}, "order": {"value": null}}
        },
        {
          "data": {"name": "Rh"},
          "mark": {"type": "point", "shape": "M0,-1L0.45,1L-0.45,1Z", "filled": true, "color": "black", "opacity": 1, "size": 81, "strokeWidth": 0},
          "encoding": {"angle": {"field": "h", "type": "quantitative", "scale": null}}
        }
      ],
      "resolve": {"axis": {"x": "independent", "y": "independent"}}
    }
  ]
}
